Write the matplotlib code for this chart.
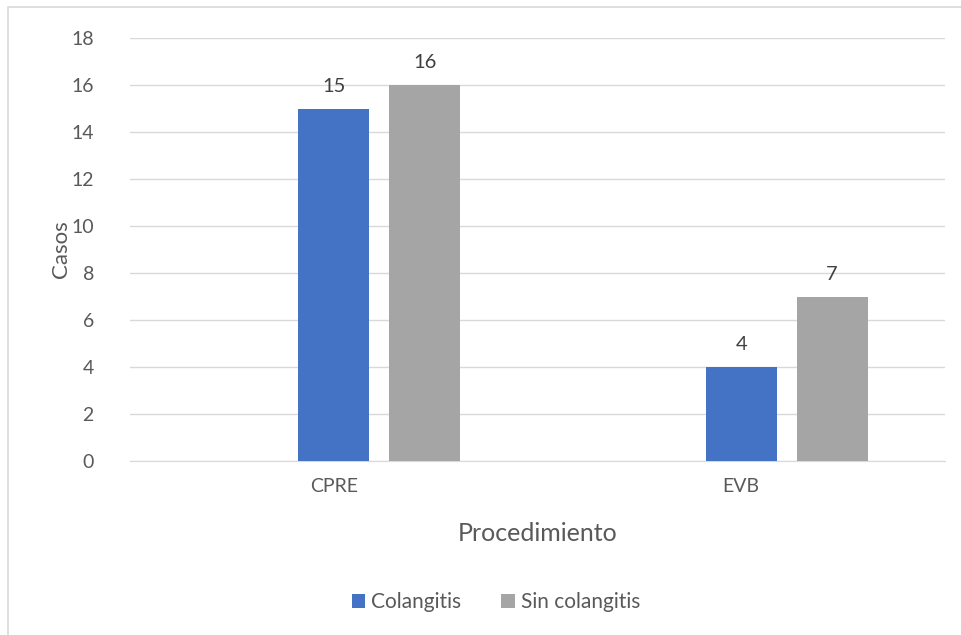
import matplotlib.pyplot as plt
from matplotlib.patches import Rectangle
import numpy as np

plt.rcParams['font.family'] = ['Lato', 'DejaVu Sans']

categorias = ['CPRE', 'EVB']
colangitis = [15, 4]
sin_colangitis = [16, 7]

azul = '#4472C4'
gris = '#A5A5A5'
texto = '#595959'
linea = '#D9D9D9'

fig = plt.figure(figsize=(9.61, 6.35), dpi=100)
ax = fig.add_axes([130/961, 1-461/635, 815/961, 423/635])

x = np.arange(len(categorias))
ancho = 0.174
paso = 0.223
b1 = ax.bar(x, colangitis, ancho, color=azul, label='Colangitis', zorder=3)
b2 = ax.bar(x + paso, sin_colangitis, ancho, color=gris, label='Sin colangitis', zorder=3)

for barras in (b1, b2):
    for b in barras:
        ax.annotate(str(int(b.get_height())), (b.get_x() + b.get_width()/2, b.get_height()),
                    xytext=(0, 10), textcoords='offset points', ha='center', va='bottom',
                    fontsize=14.5, color='#404040')

ax.set_xlim(-0.5, 1.5)
ax.set_ylim(0, 18)
ax.set_yticks(range(0, 19, 2))
ax.set_xticks(x)
ax.set_xticklabels(categorias)
ax.grid(axis='y', color=linea, linewidth=1, zorder=0)
for s in ['top', 'right', 'left']:
    ax.spines[s].set_visible(False)
ax.spines['bottom'].set_color(linea)
ax.tick_params(length=0, labelsize=14, colors=texto)
ax.tick_params(axis='y', pad=26)
ax.tick_params(axis='x', pad=12)

ax.set_ylabel('Casos', fontsize=16, color=texto, labelpad=0)
ax.set_xlabel('Procedimiento', fontsize=18, color=texto, labelpad=20)

fig.legend(loc='center', bbox_to_anchor=(496/961, 1-602/635), ncol=2, frameon=False,
           fontsize=15, labelcolor=texto, handlelength=0.65, handleheight=0.65,
           handletextpad=0.3, columnspacing=1.9)

# marco del gráfico
fig.patches.append(Rectangle((8/961, -0.1), 1.0, 1.1 - 7/635, transform=fig.transFigure,
                             fill=False, edgecolor=linea, linewidth=1.2))

fig.savefig('out.png', dpi=100)
